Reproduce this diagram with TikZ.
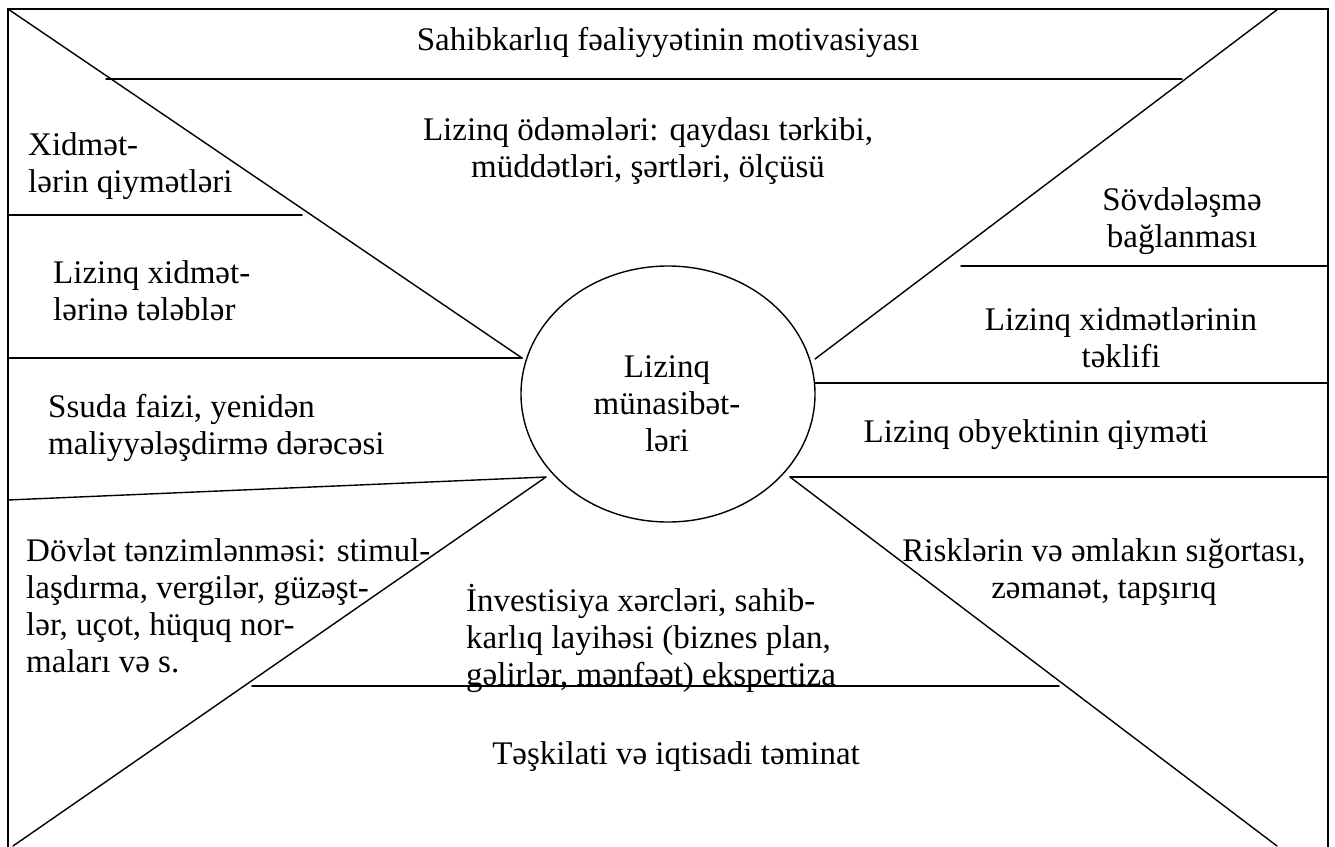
\documentclass[tikz,border=0pt]{standalone}
\usepackage{fontspec}
\setmainfont{Liberation Serif}
\usetikzlibrary{shapes.geometric}
\begin{document}
\begin{tikzpicture}[x=1pt,y=-1pt,
  rule/.style={line width=1.4pt,line cap=round},
  lbl/.style={inner sep=0pt,font=\fontsize{33}{37}\selectfont},
  lblc/.style={lbl,align=center},
  lbll/.style={lbl,align=left,anchor=west}]
\useasboundingbox (0,0) rectangle (1335,846);
\clip (0,0) rectangle (1335,846);

% outer frame (open at the bottom)
\coordinate (fbl) at (8,850);
\coordinate (ftl) at (8,9);
\coordinate (ftr) at (1328,9);
\coordinate (fbr) at (1328,850);
\draw[rule,line cap=butt] (fbl) -- (ftl) -- (ftr) -- (fbr);

% central ellipse
\node[draw,ellipse,line width=1.4pt,minimum width=294pt,minimum height=256pt,inner sep=0pt] (core) at (668,394) {};
\node[lblc] (coretext) at (667,404) {Lizinq\\münasibət-\\ləri};

% end points of the dividing lines
\coordinate (tlA) at (8,9);
\coordinate (tlB) at (522,358);
\coordinate (l1A) at (8,215);
\coordinate (l1B) at (302,215);
\coordinate (l2A) at (8,358);
\coordinate (l3A) at (8,500);
\coordinate (blB) at (546,477);
\coordinate (blA) at (13,846);
\coordinate (bhA) at (252,686);
\coordinate (bhB) at (1059,686);
\coordinate (brA) at (790,477);
\coordinate (brB) at (1277,846);
\coordinate (r3B) at (1328,477);
\coordinate (r2A) at (815,383);
\coordinate (r2B) at (1328,383);
\coordinate (trA) at (1278,9);
\coordinate (trB) at (815,359);
\coordinate (r1A) at (961,266);
\coordinate (r1B) at (1328,266);
\coordinate (thA) at (106,79);
\coordinate (thB) at (1182,79);

\draw[rule] (tlA) -- (tlB);
\draw[rule] (l1A) -- (l1B);
\draw[rule] (l2A) -- (tlB);
\draw[rule] (l3A) -- (blB);
\draw[rule] (blB) -- (blA);
\draw[rule] (bhA) -- (bhB);
\draw[rule] (brA) -- (brB);
\draw[rule] (brA) -- (r3B);
\draw[rule] (r2A) -- (r2B);
\draw[rule] (trA) -- (trB);
\draw[rule] (r1A) -- (r1B);
\draw[rule] (thA) -- (thB);

% labels
\node[lblc] (t1) at (668,42) {Sahibkarlıq fəaliyyətinin motivasiyası};
\node[lblc] (t2) at (648,151) {Lizinq ödəmələri: qaydası tərkibi,\\müddətləri, şərtləri, ölçüsü};
\node[lbll] (t3) at (28,166) {Xidmət-\\lərin qiymətləri};
\node[lbll] (t4) at (53,291) {Lizinq xidmət-\\lərinə tələblər};
\node[lbll] (t5) at (48,428) {Ssuda faizi, yenidən\\maliyyələşdirmə dərəcəsi};
\node[lbll] (t6) at (26,606) {Dövlət tənzimlənməsi: stimul-\\laşdırma, vergilər, güzəşt-\\lər, uçot, hüquq nor-\\maları və s.};
\node[lbll] (t7) at (466,638) {İnvestisiya xərcləri, sahib-\\karlıq layihəsi (biznes plan,\\gəlirlər, mənfəət) ekspertiza};
\node[lblc] (t8) at (676,757) {Təşkilati və iqtisadi təminat};
\node[lblc] (t9) at (1104,572) {Risklərin və əmlakın sığortası,\\zəmanət, tapşırıq};
\node[lblc] (t10) at (1036,435) {Lizinq obyektinin qiyməti};
\node[lblc] (t11) at (1121,338) {Lizinq xidmətlərinin\\təklifi};
\node[lblc] (t12) at (1182,221) {Sövdələşmə\\bağlanması};
\end{tikzpicture}
\end{document}
